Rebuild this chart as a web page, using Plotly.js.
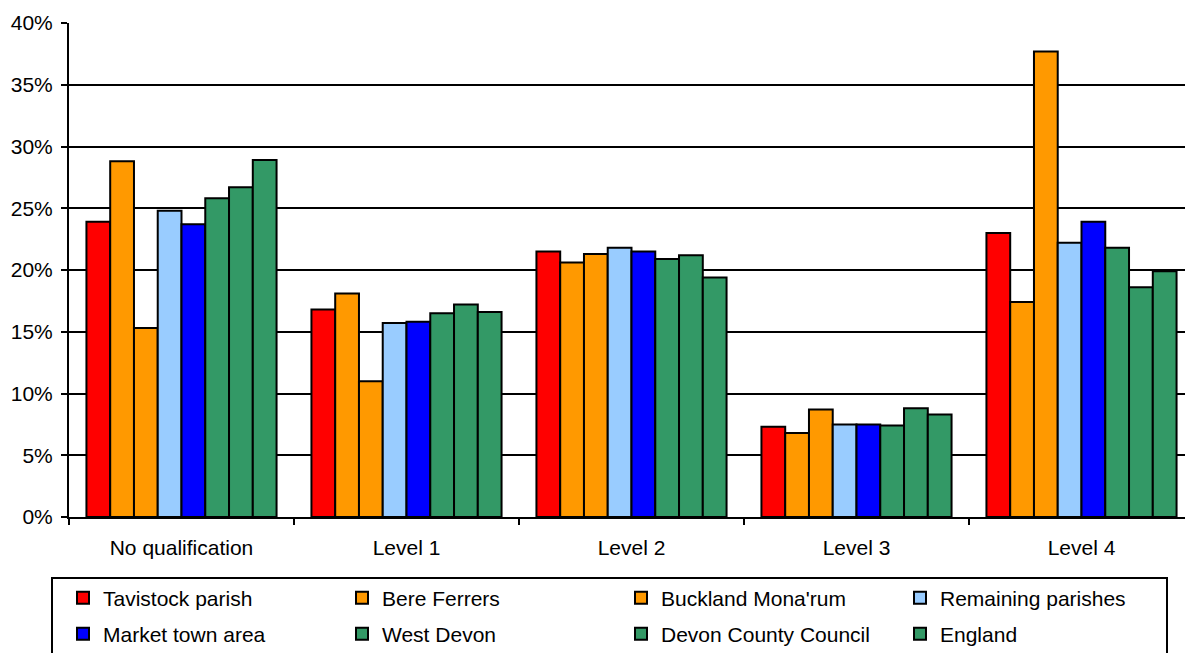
<!DOCTYPE html>
<html>
<head>
<meta charset="utf-8">
<script src="https://cdn.plot.ly/plotly-3.0.1.min.js"></script>
<style>
  html, body { margin: 0; padding: 0; background: #fff; overflow: hidden; }
  #wrap { width: 1185px; height: 653px; overflow: hidden; }
  #chart { width: 1200px; height: 653px; }
</style>
</head>
<body>
<div id="wrap"><div id="chart"></div></div>
<script>
// Highest qualification held, share of residents aged 16+
const categories = ['No qualification', 'Level 1', 'Level 2', 'Level 3', 'Level 4'];

const tavistockParish   = [23.9, 16.8, 21.5, 7.3, 23.0];
const bereFerrers       = [28.8, 18.1, 20.6, 6.8, 17.4];
const bucklandMonarum   = [15.3, 11.0, 21.3, 8.7, 37.7];
const remainingParishes = [24.8, 15.7, 21.8, 7.5, 22.2];
const marketTownArea    = [23.7, 15.8, 21.5, 7.5, 23.9];
const westDevon         = [25.8, 16.5, 20.9, 7.4, 21.8];
const devonCounty       = [26.7, 17.2, 21.2, 8.8, 18.6];
const england           = [28.9, 16.6, 19.4, 8.3, 19.9];

const yTickValues = [0, 5, 10, 15, 20, 25, 30, 35, 40];

const seriesDefs = [
  { name: 'Tavistock parish',   values: tavistockParish,   color: '#FF0000', legend: 'legend'  },
  { name: 'Bere Ferrers',       values: bereFerrers,       color: '#FF9900', legend: 'legend'  },
  { name: "Buckland Mona'rum",  values: bucklandMonarum,   color: '#FF9900', legend: 'legend'  },
  { name: 'Remaining parishes', values: remainingParishes, color: '#99CCFF', legend: 'legend'  },
  { name: 'Market town area',   values: marketTownArea,    color: '#0000FF', legend: 'legend2' },
  { name: 'West Devon',         values: westDevon,         color: '#339966', legend: 'legend2' },
  { name: 'Devon County Council', values: devonCounty,     color: '#339966', legend: 'legend2' },
  { name: 'England',            values: england,           color: '#339966', legend: 'legend2' }
];

const traces = seriesDefs.map(s => ({
  type: 'bar',
  name: s.name,
  x: categories,
  y: s.values,
  legend: s.legend,
  marker: { color: s.color, line: { color: '#000000', width: 2 } },
  hovertemplate: '%{x}<br>' + s.name + ': %{y:.1f}%<extra></extra>'
}));

const FONT = 'Liberation Sans, Arial, sans-serif';

// plot area: x 69..1194, y 23..517 (pixels); the right end runs past the visible page
const PLOT_L = 69, PLOT_W = 1125, PLOT_B = 517, PLOT_H = 494;
const px2x = px => (px - PLOT_L) / PLOT_W;
const px2y = py => (PLOT_B - py) / PLOT_H;

const legendCommon = {
  orientation: 'h',
  xanchor: 'left',
  yanchor: 'middle',
  bgcolor: 'rgba(0,0,0,0)',
  borderwidth: 0,
  entrywidth: 234,
  entrywidthmode: 'pixels',
  font: { family: FONT, size: 21, color: '#000' },
  traceorder: 'normal'
};

const layout = {
  width: 1200,
  height: 653,
  margin: { l: 69, r: 6, t: 23, b: 136, pad: 0, autoexpand: false },
  paper_bgcolor: '#ffffff',
  plot_bgcolor: '#ffffff',
  barmode: 'group',
  bargap: 0.155,
  bargroupgap: 0,
  font: { family: FONT, size: 21, color: '#000' },
  xaxis: {
    type: 'category',
    automargin: false,
    tickson: 'boundaries',
    ticks: 'outside',
    ticklen: 6,
    tickwidth: 2,
    tickcolor: '#000',
    showline: true,
    linecolor: '#000',
    linewidth: 2,
    showgrid: false,
    tickfont: { family: FONT, size: 21, color: '#000' },
    ticklabelstandoff: 11
  },
  yaxis: {
    automargin: false,
    range: [0, 40],
    tickvals: yTickValues,
    ticktext: yTickValues.map(v => v + '%'),
    ticks: 'outside',
    ticklen: 6,
    tickwidth: 2,
    tickcolor: '#000',
    showline: true,
    linecolor: '#000',
    linewidth: 2,
    showgrid: true,
    gridcolor: '#000',
    gridwidth: 2,
    zeroline: false,
    tickfont: { family: FONT, size: 21, color: '#000' },
    ticklabelstandoff: 4
  },
  legend: Object.assign({}, legendCommon, { x: px2x(63), y: px2y(598) }),
  legend2: Object.assign({}, legendCommon, { x: px2x(63), y: px2y(634) }),
  shapes: [
    {
      type: 'rect',
      xref: 'paper', yref: 'paper',
      x0: px2x(52), x1: px2x(1167),
      y0: px2y(578), y1: px2y(700),
      line: { color: '#000', width: 2 },
      fillcolor: 'rgba(0,0,0,0)',
      layer: 'above'
    }
  ]
};

Plotly.newPlot('chart', traces, layout, { displayModeBar: false });
</script>
</body>
</html>
